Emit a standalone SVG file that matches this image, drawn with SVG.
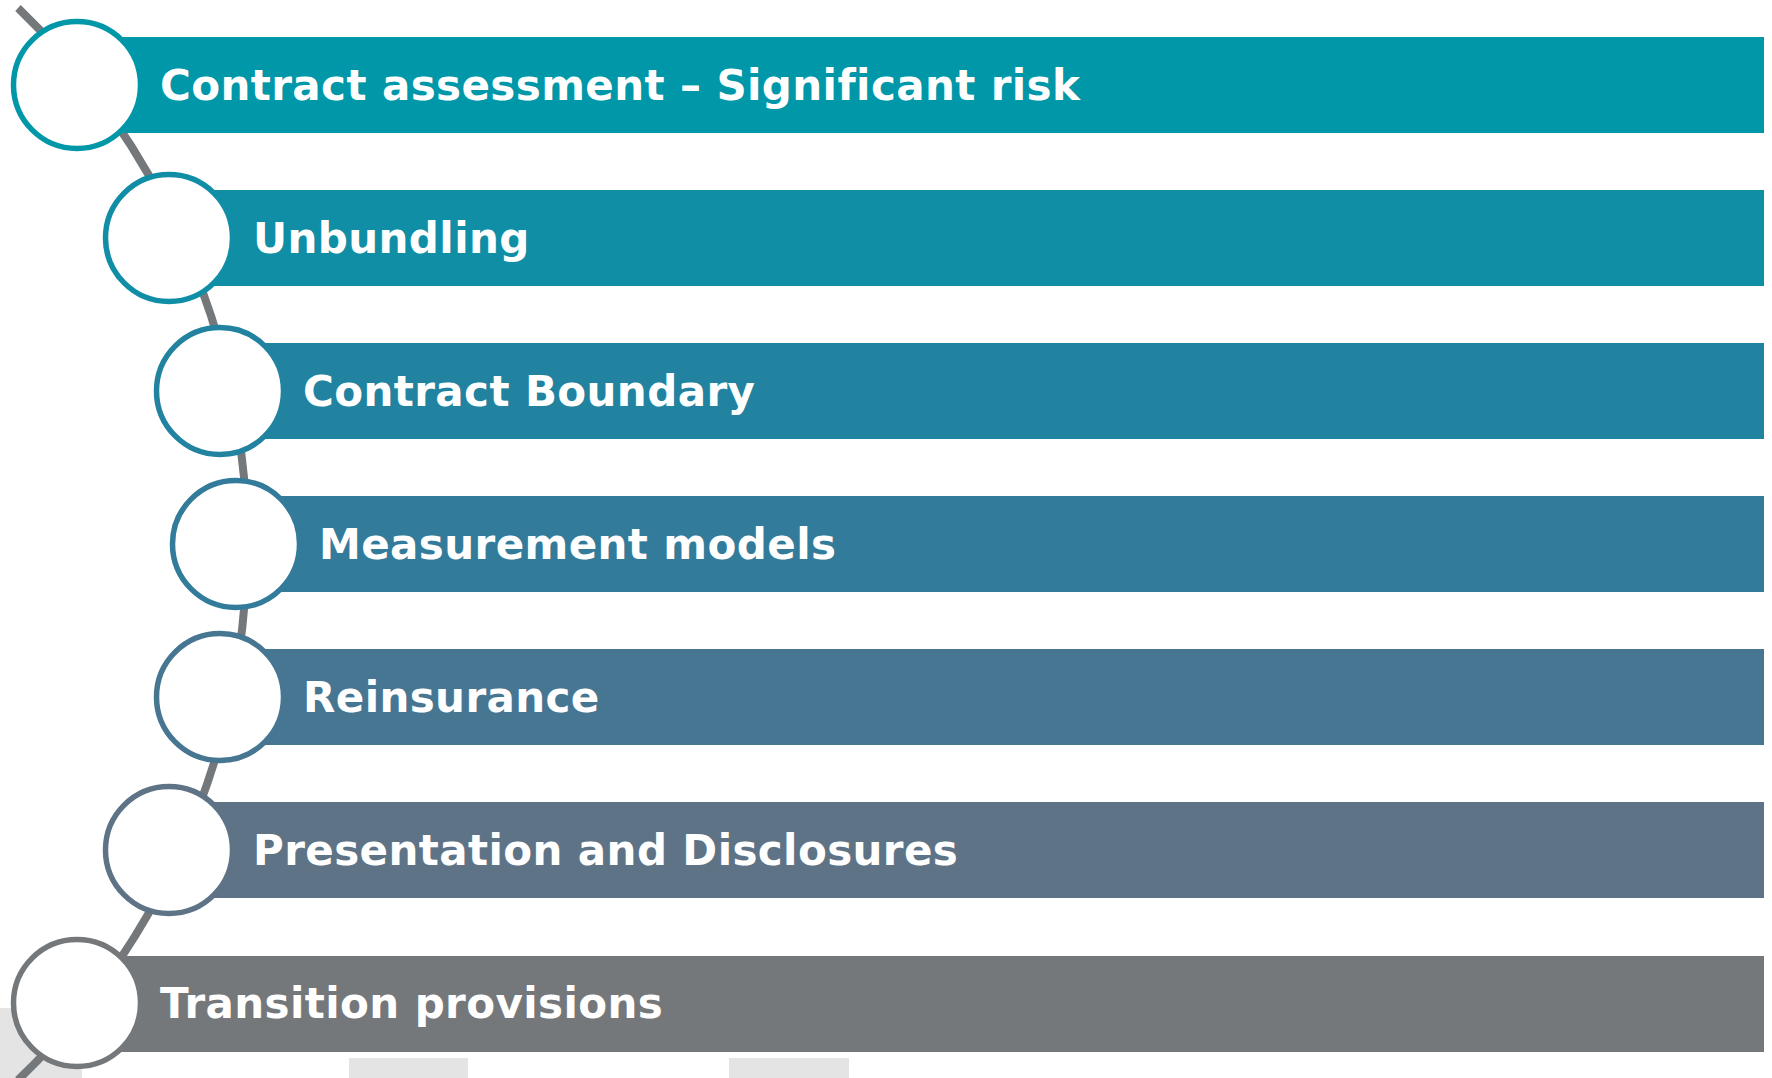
<svg xmlns="http://www.w3.org/2000/svg" width="1772" height="1078" viewBox="0 0 1772 1078">
<style>
.bar{stroke:none}
.ring{fill:#ffffff;stroke-width:5.5}
.lbl{font-family:"DejaVu Sans","Verdana",sans-serif;font-weight:bold;font-size:42px;letter-spacing:0.4px;fill:#ffffff}
.conn{fill:none;stroke:#75787B;stroke-width:8}
.bg{fill:#E4E4E4}
</style>
<rect width="1772" height="1078" fill="#ffffff"/>
<g id="backdrop">
<rect class="bg" x="0" y="1008" width="82" height="70"/>
<rect class="bg" x="349" y="1058" width="119" height="20"/>
<rect class="bg" x="729" y="1058" width="120" height="20"/>
</g>
<g id="connectors">
<path class="conn" d="M 18 8 A 742 742 0 0 1 18 1080"/>
</g>
<g id="node1">
<rect class="bar" x="77" y="37" width="1687" height="96" fill="#0097A8"/>
<circle class="ring" cx="77" cy="85" r="63.5" stroke="#0097A8"/>
<text class="lbl" x="160" y="100">Contract assessment – Significant risk</text>
</g>
<g id="node2">
<rect class="bar" x="169" y="190" width="1595" height="96" fill="#108EA6"/>
<circle class="ring" cx="169" cy="238" r="63.5" stroke="#108EA6"/>
<text class="lbl" x="253" y="253">Unbundling</text>
</g>
<g id="node3">
<rect class="bar" x="220" y="343" width="1544" height="96" fill="#2183A0"/>
<circle class="ring" cx="220" cy="391" r="63.5" stroke="#2183A0"/>
<text class="lbl" x="303" y="406">Contract Boundary</text>
</g>
<g id="node4">
<rect class="bar" x="236" y="496" width="1528" height="96" fill="#337B9A"/>
<circle class="ring" cx="236" cy="544" r="63.5" stroke="#337B9A"/>
<text class="lbl" x="319" y="559">Measurement models</text>
</g>
<g id="node5">
<rect class="bar" x="220" y="649" width="1544" height="96" fill="#477692"/>
<circle class="ring" cx="220" cy="697" r="63.5" stroke="#477692"/>
<text class="lbl" x="303" y="712">Reinsurance</text>
</g>
<g id="node6">
<rect class="bar" x="169" y="802" width="1595" height="96" fill="#5E7386"/>
<circle class="ring" cx="169" cy="850" r="63.5" stroke="#5E7386"/>
<text class="lbl" x="253" y="865">Presentation and Disclosures</text>
</g>
<g id="node7">
<rect class="bar" x="77" y="956" width="1687" height="96" fill="#75787B"/>
<circle class="ring" cx="77" cy="1003" r="63.5" stroke="#75787B"/>
<text class="lbl" x="160" y="1018">Transition provisions</text>
</g>
</svg>
